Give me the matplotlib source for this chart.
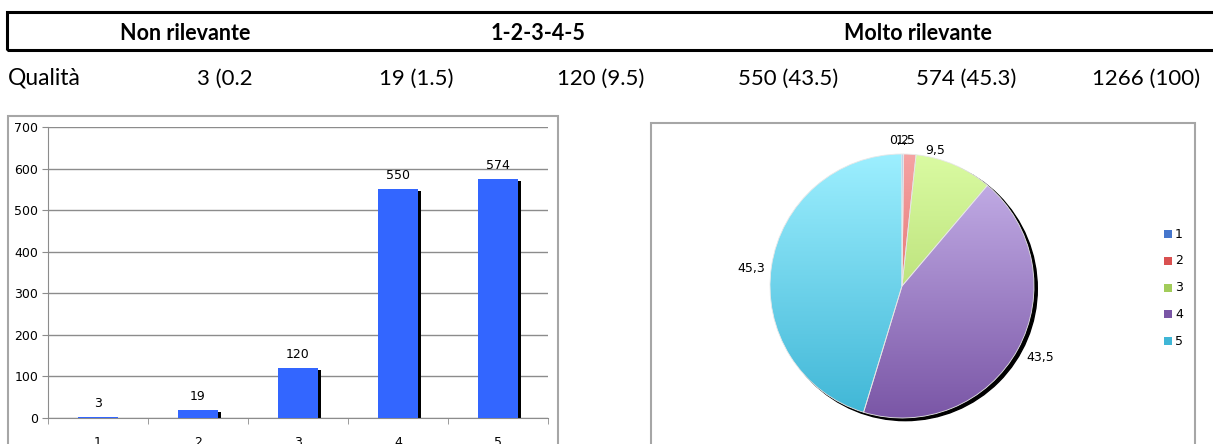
import matplotlib
matplotlib.use("Agg")
import matplotlib.pyplot as plt
import numpy as np
from matplotlib.patches import Rectangle, Circle
from matplotlib.colors import to_rgb
import matplotlib.transforms as mtransforms

W, H = 1213, 444

# survey data
headers = ["Non rilevante", "1-2-3-4-5", "Molto rilevante"]
row_name = "Qualità"
row_cells = ["3 (0.2", "19 (1.5)", "120 (9.5)", "550 (43.5)", "574 (45.3)", "1266 (100)"]
categories = ["1", "2", "3", "4", "5"]
counts = [3, 19, 120, 550, 574]
percents = [0.2, 1.5, 9.5, 43.5, 45.3]

# gradient colours per slice (top, bottom)
grad_top = ["#7ea8ec", "#f5a3a3", "#dafba2", "#c9b5ec", "#9defff"]
grad_bot = ["#4676cc", "#d95050", "#a2cc5a", "#7a56a6", "#3fb6d6"]
bar_color = "#3366ff"


def px(x, y):
    # pixel coords (from top-left) -> figure fraction
    return x / W, 1 - y / H


def axes_px(left, top, right, bottom):
    x0, y1 = px(left, top)
    x1, y0 = px(right, bottom)
    return fig.add_axes([x0, y0, x1 - x0, y1 - y0])


fig = plt.figure(figsize=(W / 100, H / 100), dpi=100)
fig.patch.set_facecolor("white")

# ---- header table ----
hx0, hy0 = px(7, 50)
hx1, hy1 = px(1230, 12)
fig.patches.append(Rectangle((hx0, hy0), hx1 - hx0, hy1 - hy0, transform=fig.transFigure,
                             fill=False, edgecolor="black", linewidth=2.2, clip_on=False))
for txt, cx in zip(headers, [185, 538, 918]):
    fig.text(*px(cx, 40), txt, ha="center", va="baseline", fontsize=15.5, fontweight="bold",
             family="Lato")

fig.text(*px(8, 85), row_name, ha="left", va="baseline", fontsize=16.5, family="Lato")
for txt, rx in zip(row_cells, [253, 454, 644, 838, 1016, 1200]):
    fig.text(*px(rx, 85), txt, ha="right", va="baseline", fontsize=16, family="Lato")

# ---- chart frames ----
for (l, t, r) in [(8, 116, 558), (651, 123, 1195)]:
    fx0, fy0 = px(l, 460)
    fx1, fy1 = px(r, t)
    fig.patches.append(Rectangle((fx0, fy0), fx1 - fx0, fy1 - fy0, transform=fig.transFigure,
                                 fill=False, edgecolor="#a6a6a6", linewidth=1.5, clip_on=False))

# ---- bar chart ----
ax = axes_px(48, 127, 548, 418)
x = np.arange(1, len(counts) + 1)
shadow = mtransforms.offset_copy(ax.transData, fig=fig, x=3, y=-2, units="dots")
ax.bar(x, counts, width=0.4, color="black", transform=shadow, zorder=2)
ax.bar(x, counts, width=0.4, color=bar_color, zorder=3)
for xi, v in zip(x, counts):
    ax.text(xi, v, str(v), ha="center", va="bottom", fontsize=9,
            transform=mtransforms.offset_copy(ax.transData, fig=fig, y=7, units="dots"))
ax.set_xlim(0.5, 5.5)
ax.set_ylim(0, 700)
ax.set_yticks(range(0, 701, 100))
ax.yaxis.grid(True, color="#8c8c8c", linewidth=1)
ax.set_axisbelow(True)
ax.set_xticks(x)
ax.set_xticklabels(categories)
ax.set_xticks(np.arange(0.5, 5.6, 1), minor=True)
ax.tick_params(axis="x", which="major", length=0, pad=13, labelsize=9)
ax.tick_params(axis="x", which="minor", length=4, color="#8c8c8c")
ax.tick_params(axis="y", length=4, color="#8c8c8c", labelsize=9, pad=3)
for s in ["top", "right"]:
    ax.spines[s].set_visible(False)
for s in ["left", "bottom"]:
    ax.spines[s].set_color("#8c8c8c")

# ---- pie chart ----
cx, cy, r = 902, 286, 132
pax = axes_px(cx - 1.4 * r, cy - 1.4 * r, cx + 1.4 * r, cy + 1.4 * r)
pax.add_patch(Circle((0.025, -0.02), 1.0, color="black", zorder=1))
wedges, _ = pax.pie(percents, startangle=90, counterclock=False,
                    wedgeprops=dict(edgecolor="#e8e8e8", linewidth=0.6))
t = np.linspace(0, 1, 256)[:, None]
for w, ct, cb in zip(wedges, grad_top, grad_bot):
    w.set_zorder(3)
    w.set_facecolor("none")
    top, bot = np.array(to_rgb(ct)), np.array(to_rgb(cb))
    grad = (bot + (top - bot) * t)[:, None, :]
    im = pax.imshow(grad, extent=(-1, 1, -1, 1), origin="lower", aspect="auto", zorder=2)
    im.set_clip_path(w)
pax.set_xlim(-1.4, 1.4)
pax.set_ylim(-1.4, 1.4)
pax.set_aspect("auto")
pax.axis("off")

# Excel-style label spots, overlapping 0,2 / 1,5 at the top
label_pos = [(-0.02, 1.106), (0.03, 1.106), (0.25, 1.03), (1.045, -0.54), (-1.14, 0.136)]
for (lx, ly), p in zip(label_pos, percents):
    pax.text(lx, ly, f"{p}".replace(".", ","), ha="center", va="center", fontsize=9)

# legend
for i, (lab, ct, cb) in enumerate(zip(categories, grad_top, grad_bot)):
    yy = 234 + i * 26.8
    lx0, ly0 = px(1164, yy + 4)
    lx1, ly1 = px(1172, yy - 4)
    fig.patches.append(Rectangle((lx0, ly0), lx1 - lx0, ly1 - ly0, transform=fig.transFigure,
                                 facecolor=cb, edgecolor="none"))
    fig.text(*px(1175, yy), lab, ha="left", va="center", fontsize=9)

fig.savefig("out.png", dpi=100)
